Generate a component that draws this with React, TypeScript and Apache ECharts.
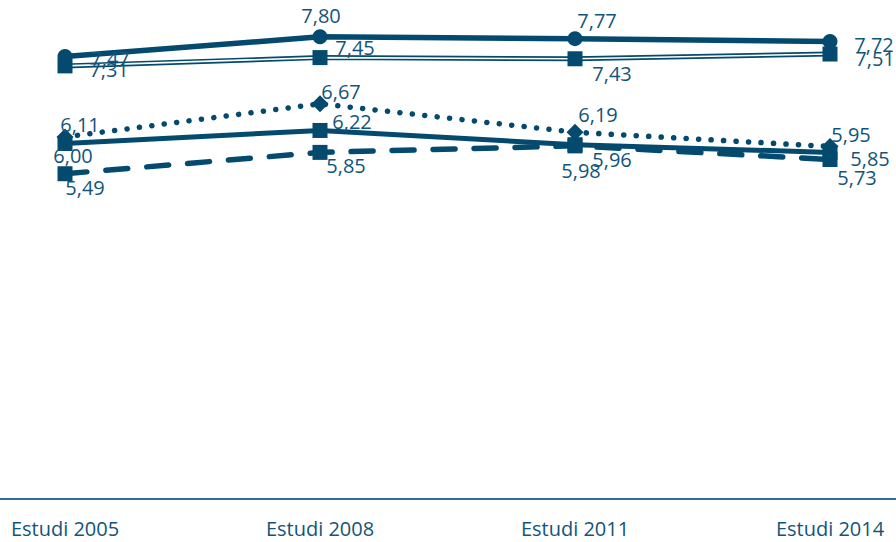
import React, { useEffect, useRef } from "react";
import * as echarts from "echarts";

const categories = ["Estudi 2005", "Estudi 2008", "Estudi 2011", "Estudi 2014"];
const seriesA = [7.47, 7.8, 7.77, 7.72];
const seriesB = [7.31, 7.45, 7.43, 7.51];
const seriesC = [6.11, 6.67, 6.19, 5.95];
const seriesD = [6.0, 6.22, 5.98, 5.85];
const seriesE = [5.49, 5.85, 5.96, 5.73];

// label offsets (style only), relative to each point
const offA = [[45, 2], [1, -21], [22, -18], [44, 3]];
const offB = [[44, 4], [35, -10], [37, 15], [45, 4]];
const offC = [[15, -12], [21, -12], [23, -18], [21, -12]];
const offD = [[8, 12], [32, -9], [6, 26], [40, 6]];
const offE = [[20, 14], [26, 13], [37, 14], [27, 18]];

const LINE = "#034a6e";
const TEXT = "#12557a";
const FONT = "'Open Sans', 'Noto Sans', sans-serif";

const fmt = (v: number) => v.toFixed(2).replace(".", ",");

function withLabels(values: number[], offs: number[][]) {
  return values.map((v, i) => ({
    value: v,
    label: { offset: offs[i] },
  }));
}

const baseLabel = {
  show: true,
  position: "inside",
  align: "center",
  verticalAlign: "middle",
  color: TEXT,
  fontSize: 20,
  fontFamily: FONT,
  formatter: (p: any) => fmt(p.value),
};

const GRID_BOTTOM = 43;

export default function App() {
  const ref = useRef<HTMLDivElement>(null);
  useEffect(() => {
    if (!ref.current) return;
    const chart = echarts.init(ref.current, null, { renderer: "svg" });
    chart.setOption({
      animation: false,
      grid: { left: 65, right: 66, top: 25, bottom: GRID_BOTTOM },
      graphic: [
        {
          type: "line",
          shape: { x1: 0, y1: 542 - GRID_BOTTOM, x2: 896, y2: 542 - GRID_BOTTOM },
          style: { stroke: "#2f6d9a", lineWidth: 2 },
          z: 0,
        },
      ],
      xAxis: {
        type: "category",
        data: categories,
        boundaryGap: false,
        axisLine: { show: false },
        axisTick: { show: false },
        axisLabel: { color: TEXT, fontSize: 20, fontFamily: FONT, margin: 19 },
      },
      yAxis: {
        type: "value",
        min: 0,
        max: 8,
        show: false,
        splitLine: { show: false },
      },
      series: [
        {
          type: "line",
          data: withLabels(seriesE, offE),
          symbol: "rect",
          symbolSize: 15,
          itemStyle: { color: LINE },
          lineStyle: { color: LINE, width: 5.5, type: [22, 19], cap: "round" },
          label: baseLabel,
          z: 2,
        },
        {
          type: "line",
          data: withLabels(seriesD, offD),
          symbol: "rect",
          symbolSize: 15,
          itemStyle: { color: LINE },
          lineStyle: { color: LINE, width: 5 },
          label: baseLabel,
          z: 3,
        },
        {
          type: "line",
          data: withLabels(seriesC, offC),
          symbol: "diamond",
          symbolSize: 17,
          itemStyle: { color: LINE },
          lineStyle: { color: LINE, width: 5.5, type: [0.1, 12.4], cap: "round" },
          label: baseLabel,
          z: 4,
        },
        {
          type: "line",
          data: seriesB,
          showSymbol: false,
          symbol: "none",
          lineStyle: { color: LINE, width: 5 },
          z: 5,
        },
        {
          type: "line",
          data: withLabels(seriesB, offB),
          symbol: "rect",
          symbolSize: 15,
          itemStyle: { color: LINE },
          lineStyle: { color: "#ffffff", width: 1.6 },
          label: baseLabel,
          z: 5,
        },
        {
          type: "line",
          data: withLabels(seriesA, offA),
          symbol: "circle",
          symbolSize: 15,
          itemStyle: { color: LINE },
          lineStyle: { color: LINE, width: 5.5 },
          label: baseLabel,
          z: 6,
        },
      ],
    });
    return () => chart.dispose();
  }, []);
  return (
    <div
      ref={ref}
      style={{ position: "absolute", left: 0, top: 0, width: 896, height: 542, background: "#fff" }}
    />
  );
}
